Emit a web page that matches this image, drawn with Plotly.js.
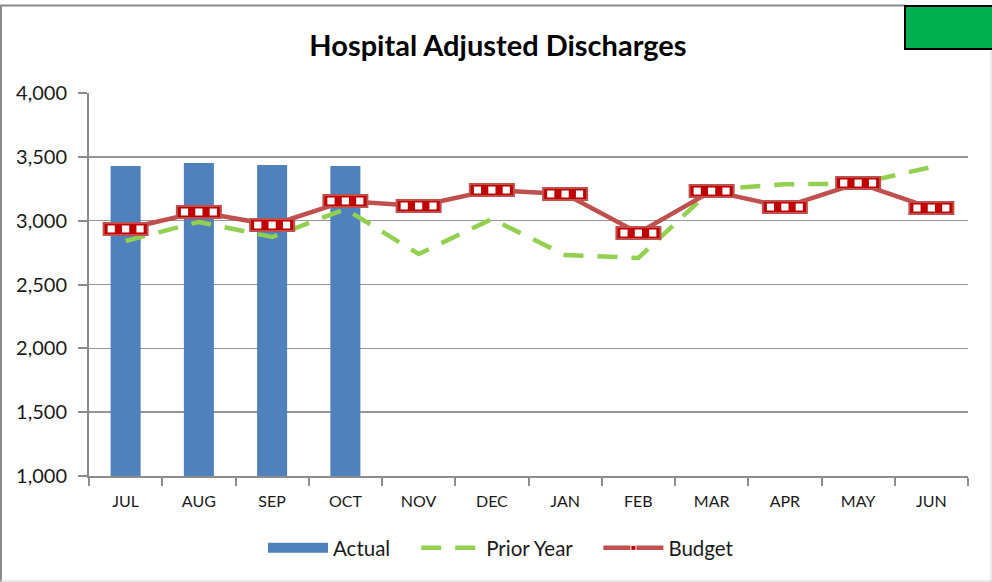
<!DOCTYPE html>
<html>
<head>
<meta charset="utf-8">
<script src="https://cdn.plot.ly/plotly-3.0.1.min.js"></script>
<style>
html,body{margin:0;padding:0;background:#fff;}
#chart{width:992px;height:582px;}
</style>
</head>
<body>
<div id="chart"></div>
<script>
const months = ["JUL","AUG","SEP","OCT","NOV","DEC","JAN","FEB","MAR","APR","MAY","JUN"];
const actual = [3428, 3452, 3436, 3428, null, null, null, null, null, null, null, null];
const priorYear = [2841, 2990, 2872, 3091, 2739, 3013, 2731, 2708, 3245, 3285, 3290, 3420];
const budget = [2935, 3068, 2966, 3154, 3115, 3240, 3209, 2903, 3232, 3107, 3295, 3099];
const yTicks = [1000, 1500, 2000, 2500, 3000, 3500, 4000];
const yTickText = ["1,000","1,500","2,000","2,500","3,000","3,500","4,000"];
const seriesNames = ["Actual", "Prior Year", "Budget"];

const FONT = "Lato, 'Open Sans', sans-serif";
const PAD = "\u00a0\u00a0\u00a0\u00a0";

// figure geometry (plot area) for paper-coordinate decoration
const L = 89, R = 24, T = 93, B = 106, W = 992, H = 582;
const pw = W - L - R, ph = H - T - B;
const px = x => (x - L) / pw;
const py = y => (H - B - y) / ph;

const shapes = [];
// outer chart frame
shapes.push({type:'line', xref:'paper', yref:'paper', x0:px(0), x1:px(905), y0:py(5.5), y1:py(5.5), line:{color:'#8a8a8a', width:2}});
shapes.push({type:'line', xref:'paper', yref:'paper', x0:px(1), x1:px(1), y0:py(5), y1:py(582), line:{color:'#8a8a8a', width:2}});
shapes.push({type:'line', xref:'paper', yref:'paper', x0:px(991), x1:px(991), y0:py(50), y1:py(582), line:{color:'#d4d4d4', width:1}});
shapes.push({type:'line', xref:'paper', yref:'paper', x0:px(0), x1:px(992), y0:py(581), y1:py(581), line:{color:'#d4d4d4', width:1}});
// green status box
shapes.push({type:'rect', xref:'paper', yref:'paper', x0:px(905), x1:px(993), y0:py(49), y1:py(6), fillcolor:'#00b050', line:{color:'#000', width:2}});

// budget markers: checkered rectangles anchored on data values
budget.forEach((v, i) => {
  shapes.push({type:'rect', xref:'x', yref:'y', xsizemode:'pixel', ysizemode:'pixel',
    xanchor:i, yanchor:v, x0:-22, x1:22, y0:-6, y1:6,
    fillcolor:'#c00000', line:{color:'#c0504d', width:2}, layer:'above'});
  const cw = 7.2;
  [0, 2, 4].forEach(k => {
    shapes.push({type:'rect', xref:'x', yref:'y', xsizemode:'pixel', ysizemode:'pixel',
      xanchor:i, yanchor:v, x0:-18 + k*cw, x1:-18 + (k+1)*cw, y0:-3.5, y1:3.5,
      fillcolor:'#ffffff', line:{width:0}, layer:'above'});
  });
});

const traces = [
  {type:'bar', name:seriesNames[0], x:months, y:actual, marker:{color:'#4f81bd'}, hoverinfo:'skip', showlegend:false, legendgroup:'a'},
  // legend-only entry so the Actual swatch is a long bar like the reference
  {type:'scatter', mode:'lines', name:seriesNames[0] + PAD, x:[months[0]], y:[null], line:{color:'#4f81bd', width:10}, legendgroup:'a', hoverinfo:'skip'},
  {type:'scatter', mode:'lines', name:seriesNames[1] + PAD, x:months, y:priorYear,
    line:{color:'#92d050', width:4.5, dash:'20px,14px'}, hoverinfo:'skip'},
  {type:'scatter', mode:'lines+markers', name:seriesNames[2], x:months, y:budget,
    line:{color:'#c0504d', width:4.5}, marker:{symbol:'square', size:5, color:'#c00000', line:{color:'#fff', width:1}}, hoverinfo:'skip'}
];

const layout = {
  width: W, height: H,
  margin:{l:L, r:R, t:T, b:B, pad:0},
  paper_bgcolor:'#ffffff', plot_bgcolor:'#ffffff',
  font:{family:FONT, color:'#1a1a1a'},
  title:{text:'<b>Hospital Adjusted Discharges</b>', font:{family:FONT, size:29, color:'#000'},
    xref:'container', x:0.502, xanchor:'center', yref:'container', y:1 - 46/H, yanchor:'middle'},
  bargap:0.59,
  showlegend:true,
  legend:{orientation:'h', xref:'paper', x:px(501), xanchor:'center', yref:'paper', y:py(548), yanchor:'middle',
    font:{family:FONT, size:20.5, color:'#1a1a1a'}, itemwidth:60, traceorder:'normal', tracegroupgap:0},
  xaxis:{type:'category', range:[-0.5, 11.5], showgrid:false, showline:true, linecolor:'#8c8c8c', linewidth:2,
    ticks:'outside', tickson:'boundaries', ticklen:8, tickcolor:'#8c8c8c', tickwidth:2, ticklabelstandoff:10,
    tickfont:{family:FONT, size:16, color:'#1a1a1a'}, zeroline:false, fixedrange:true},
  yaxis:{range:[1000, 4000], tickvals:yTicks, ticktext:yTickText, showgrid:true, gridcolor:'#959595', gridwidth:1.5,
    showline:true, linecolor:'#8c8c8c', linewidth:2, ticks:'outside', ticklen:9, tickcolor:'#8c8c8c', tickwidth:2, ticklabelstandoff:7,
    tickfont:{family:FONT, size:20, color:'#1a1a1a'}, zeroline:false, fixedrange:true},
  shapes: shapes
};

Plotly.newPlot('chart', traces, layout, {displayModeBar:false, staticPlot:true});
</script>
</body>
</html>
